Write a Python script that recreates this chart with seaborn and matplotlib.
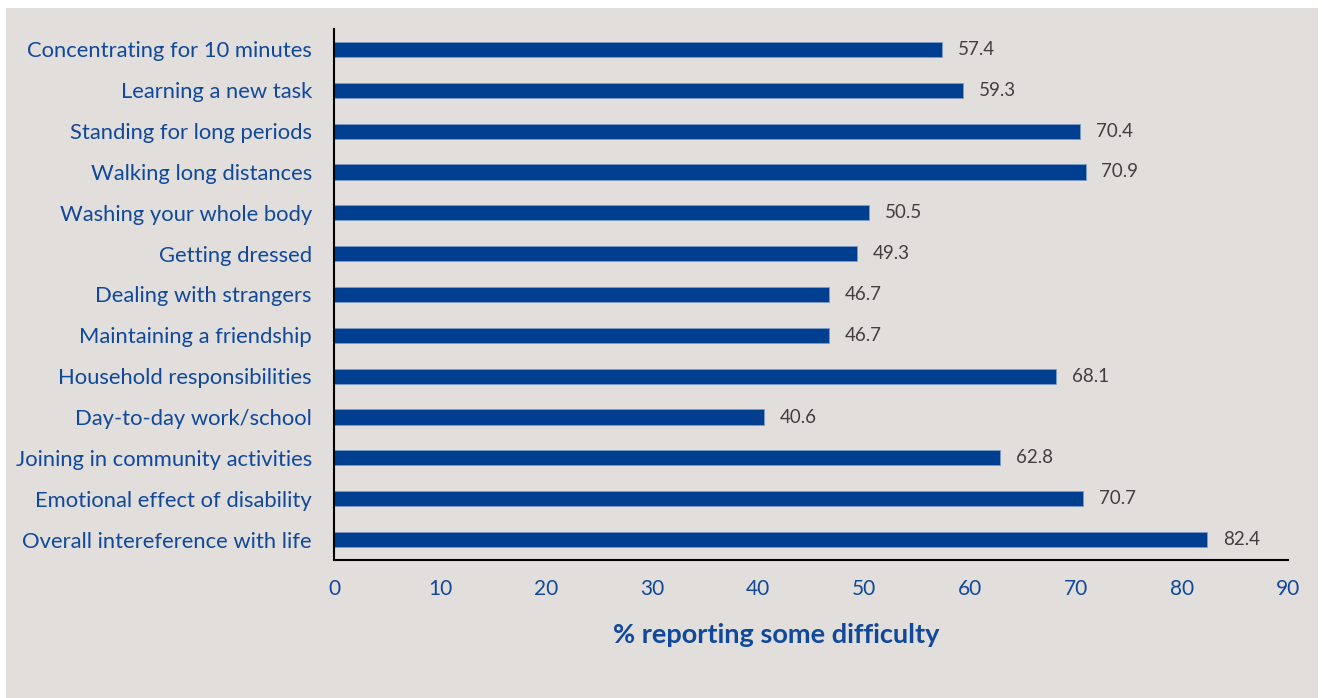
import matplotlib
matplotlib.use("Agg")
import matplotlib.pyplot as plt
from matplotlib.patches import Rectangle
import seaborn as sns
import pandas as pd

activities = [
    "Concentrating for 10 minutes",
    "Learning a new task",
    "Standing for long periods",
    "Walking long distances",
    "Washing your whole body",
    "Getting dressed",
    "Dealing with strangers",
    "Maintaining a friendship",
    "Household responsibilities",
    "Day-to-day work/school",
    "Joining in community activities",
    "Emotional effect of disability",
    "Overall intereference with life",
]
percent = [57.4, 59.3, 70.4, 70.9, 50.5, 49.3, 46.7, 46.7, 68.1, 40.6, 62.8, 70.7, 82.4]
x_ticks = [0, 10, 20, 30, 40, 50, 60, 70, 80, 90]

BG = "#E2DEDC"
BAR = "#003F8F"
BLUE = "#10499A"
GREY = "#404040"

sns.set_theme(style="white")
plt.rcParams["font.family"] = ["Lato", "DejaVu Sans"]

df = pd.DataFrame({"activity": activities, "pct": percent})

fig = plt.figure(figsize=(13.22, 6.98), dpi=100, facecolor="white")
# panel behind the chart
fig.patches.append(Rectangle((6 / 1322, 0), 1312 / 1322, 690 / 698,
                             transform=fig.transFigure, facecolor=BG,
                             edgecolor="none", zorder=-10))

ax = fig.add_axes([334 / 1322, 1 - 560 / 698, (1288 - 334) / 1322, (560 - 29) / 698])
ax.set_facecolor("none")

sns.barplot(data=df, x="pct", y="activity", orient="h", color=BAR,
            width=0.37, edgecolor="#7F9CC8", linewidth=0.6, saturation=1, ax=ax)

for i, v in enumerate(percent):
    ax.text(v + 1.5, i, f"{v:.1f}", va="center", ha="left",
            fontsize=13.5, color=GREY)

ax.set_xlim(0, 90)
ax.set_xticks(x_ticks)
ax.set_xticklabels([str(t) for t in x_ticks])
ax.tick_params(axis="x", colors=BLUE, labelsize=15, length=0, pad=14)
ax.tick_params(axis="y", colors=BLUE, labelsize=15.8, length=0, pad=16)
for lab in ax.get_yticklabels():
    lab.set_color(BLUE)

ax.set_ylabel("")
ax.set_xlabel("% reporting some difficulty", fontsize=19.5, fontweight="bold",
              color=BLUE)
ax.xaxis.set_label_coords(0.464, -0.141)
ax.xaxis.label.set_verticalalignment("center")

for s in ["top", "right"]:
    ax.spines[s].set_visible(False)
for s in ["left", "bottom"]:
    ax.spines[s].set_visible(True)
    ax.spines[s].set_color("black")
    ax.spines[s].set_linewidth(1.5)

fig.savefig("out.png", dpi=100, facecolor="white")
